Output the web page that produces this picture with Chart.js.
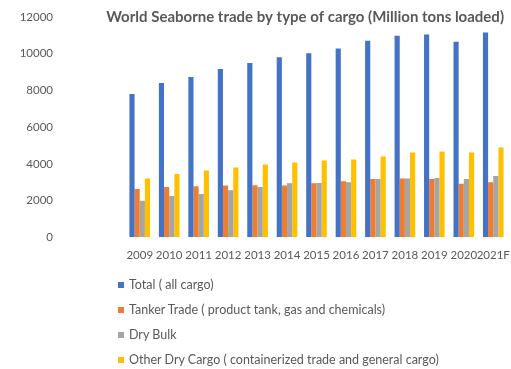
<!DOCTYPE html>
<html>
<head>
<meta charset="utf-8">
<script src="https://cdn.jsdelivr.net/npm/chart.js@4.4.1/dist/chart.umd.min.js"></script>
<style>
  html, body { margin: 0; padding: 0; background: #fff; }
  #cargo-chart { display: block; }
  #legend { list-style: none; margin: -2px 0 0 0; padding: 0 0 0 118px;
    font: 12.5px Lato, sans-serif; color: #595959; }
  #legend li { height: 25px; line-height: 25px; display: flex; align-items: center; }
  #legend span { display: inline-block; width: 6px; height: 6px; margin-right: 5px; }
</style>
</head>
<body>
<canvas id="cargo-chart" width="511" height="274"></canvas>
<ul id="legend"></ul>
<script>
const years = ["2009", "2010", "2011", "2012", "2013", "2014", "2015",
  "2016", "2017", "2018", "2019", "2020", "2021F"];

const totalCargo = [7800, 8400, 8730, 9165, 9490, 9800, 10020, 10290, 10710, 10980, 11040, 10650, 11150];
const tankerTrade = [2620, 2730, 2780, 2815, 2830, 2815, 2945, 3055, 3165, 3200, 3165, 2910, 3000];
const dryBulk = [1980, 2240, 2360, 2560, 2730, 2945, 2960, 3000, 3165, 3200, 3220, 3165, 3330];
const otherDryCargo = [3200, 3440, 3630, 3800, 3960, 4070, 4180, 4235, 4400, 4615, 4670, 4615, 4890];

const yTicks = [0, 2000, 4000, 6000, 8000, 10000, 12000];

const textGray = "#595959";
const chartTitle = "World Seaborne trade by type of cargo (Million tons loaded)";

// title sits over the top of the plot, right-aligned with it
const titleOverlay = {
  id: "titleOverlay",
  afterDraw(chart) {
    const { ctx, chartArea } = chart;
    ctx.save();
    ctx.font = "bold 15px Lato, sans-serif";
    ctx.fillStyle = textGray;
    ctx.textAlign = "right";
    ctx.textBaseline = "middle";
    ctx.fillText(chartTitle, chartArea.right - 4, chartArea.top);
    ctx.restore();
  },
};

const cargoData = {
  labels: years,
  datasets: [
    { label: "Total ( all cargo)", data: totalCargo, backgroundColor: "#4472C4" },
    { label: "Tanker Trade ( product tank, gas and chemicals)", data: tankerTrade, backgroundColor: "#ED7D31" },
    { label: "Dry Bulk", data: dryBulk, backgroundColor: "#A5A5A5" },
    { label: "Other Dry Cargo ( containerized trade and general cargo)", data: otherDryCargo, backgroundColor: "#FFC000" },
  ],
};

const cargoOptions = {
  responsive: false,
  animation: { duration: 0 },
  layout: { padding: { top: 17, right: 3, bottom: 0, left: 0 } },
  datasets: {
    bar: { categoryPercentage: 0.7, barPercentage: 1, borderWidth: 0 },
  },
  scales: {
    x: {
      grid: { display: false, drawTicks: false },
      border: { display: false },
      afterFit: (scale) => {
        // tick padding should only push labels down, not shrink the sides
        scale.paddingLeft = 0;
        scale.paddingRight = 0;
      },
      ticks: {
        color: textGray,
        font: { family: "Lato", size: 11.5 },
        autoSkip: false,
        maxRotation: 0,
        minRotation: 0,
        padding: 11.5,
      },
    },
    y: {
      min: 0,
      max: 12000,
      grid: { display: false, drawTicks: false },
      border: { display: false },
      afterBuildTicks: (scale) => {
        scale.ticks = yTicks.map((v) => ({ value: v }));
      },
      afterFit: (scale) => {
        scale.width = 125;
        scale.paddingTop = 0;
        scale.paddingBottom = 0;
      },
      ticks: {
        color: textGray,
        font: { family: "Lato", size: 11.5 },
        padding: 72,
        callback: (value) => String(value),
      },
    },
  },
  plugins: {
    legend: { display: false },
    title: { display: false },
    tooltip: { enabled: false },
  },
};

const cargoChart = new Chart(document.querySelector("#cargo-chart"), {
  type: "bar",
  data: cargoData,
  options: cargoOptions,
  plugins: [titleOverlay],
});

// vertical legend under the chart
const legendList = document.querySelector("#legend");
cargoChart.data.datasets.forEach((ds) => {
  const item = document.createElement("li");
  item.innerHTML = `<span style="background:${ds.backgroundColor}"></span>${ds.label}`;
  legendList.appendChild(item);
});
</script>
</body>
</html>
